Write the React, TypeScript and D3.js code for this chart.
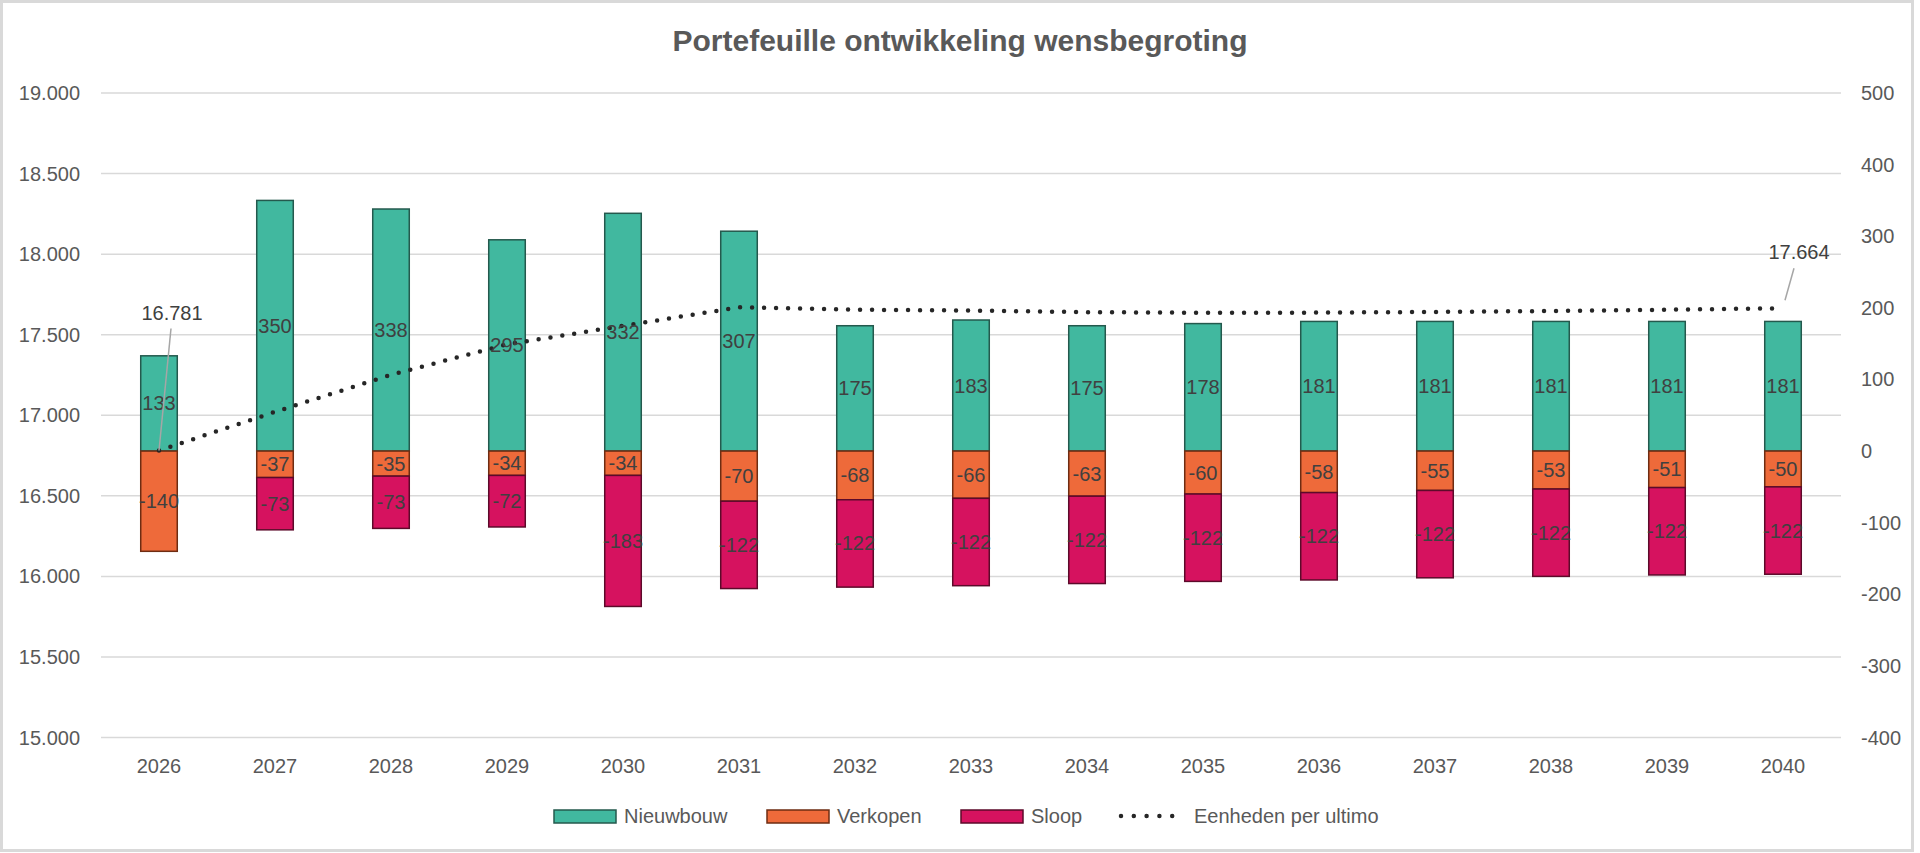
import React, { useRef, useEffect } from 'react';
import * as d3 from 'd3';

// categories and series
const years = ['2026', '2027', '2028', '2029', '2030', '2031', '2032', '2033', '2034', '2035', '2036', '2037', '2038', '2039', '2040'];
const nieuwbouw = [133, 350, 338, 295, 332, 307, 175, 183, 175, 178, 181, 181, 181, 181, 181];
const verkopen = [-140, -37, -35, -34, -34, -70, -68, -66, -63, -60, -58, -55, -53, -51, -50];
const sloop: (number | null)[] = [null, -73, -73, -72, -183, -122, -122, -122, -122, -122, -122, -122, -122, -122, -122];
const eenheden = [16781, 17021, 17251, 17440, 17555, 17670, 17655, 17650, 17640, 17636, 17637, 17641, 17647, 17655, 17664];

const leftTicks = [15000, 15500, 16000, 16500, 17000, 17500, 18000, 18500, 19000];
const rightTicks = [-400, -300, -200, -100, 0, 100, 200, 300, 400, 500];
const labelledPoints = [0, 14]; // only first and last point carry a data label

const W = 1920;
const H = 853;
const FONT = '"Liberation Sans", Arial, sans-serif';
const AXIS_COLOR = '#595959';
const LABEL_COLOR = '#404040';

const nl = d3.formatLocale({ decimal: ',', thousands: '.', grouping: [3], currency: ['€', ''], minus: '-' });
const fmt = nl.format(',d');

const seriesStyle = {
  Nieuwbouw: { fill: '#41B89F', stroke: '#24594d' },
  Verkopen: { fill: '#EE6A3A', stroke: '#6e2c12' },
  Sloop: { fill: '#D6125F', stroke: '#5c0a2a' },
};

const App: React.FC = () => {
  const svgRef = useRef<SVGSVGElement | null>(null);

  useEffect(() => {
    document.body.style.margin = '0';
    const svg = d3.select(svgRef.current);
    svg.selectAll('*').remove();

    const plot = { left: 101, right: 1841, top: 93, bottom: 737.5 };

    const x = d3
      .scaleBand<string>()
      .domain(years)
      .range([plot.left, plot.right])
      .paddingInner(0.685)
      .paddingOuter(0.3425);
    const cx = (i: number) => x(years[i])! + x.bandwidth() / 2;

    const yLeft = d3.scaleLinear().domain([15000, 19000]).range([plot.bottom, plot.top]);
    const yRight = d3.scaleLinear().domain([-400, 500]).range([plot.bottom, plot.top]);

    svg.append('rect').attr('width', W).attr('height', H).attr('fill', '#fff');
    svg
      .append('rect')
      .attr('x', 1.5)
      .attr('y', 1.5)
      .attr('width', 1911)
      .attr('height', 849)
      .attr('fill', 'none')
      .attr('stroke', '#d9d9d9')
      .attr('stroke-width', 3);

    // title
    svg
      .append('text')
      .attr('x', W / 2)
      .attr('y', 51)
      .attr('text-anchor', 'middle')
      .style('font-family', FONT)
      .style('font-size', '30px')
      .style('font-weight', 'bold')
      .attr('fill', AXIS_COLOR)
      .text('Portefeuille ontwikkeling wensbegroting');

    // gridlines from the primary axis
    svg
      .append('g')
      .selectAll('line')
      .data(leftTicks)
      .enter()
      .append('line')
      .attr('x1', plot.left)
      .attr('x2', plot.right)
      .attr('y1', (d) => yLeft(d))
      .attr('y2', (d) => yLeft(d))
      .attr('stroke', '#d9d9d9')
      .attr('stroke-width', 1.5);

    // left axis labels
    svg
      .append('g')
      .selectAll('text')
      .data(leftTicks)
      .enter()
      .append('text')
      .attr('x', 80)
      .attr('y', (d) => yLeft(d) + 7)
      .attr('text-anchor', 'end')
      .style('font-family', FONT)
      .style('font-size', '20px')
      .attr('fill', AXIS_COLOR)
      .text((d) => fmt(d));

    // right axis labels
    svg
      .append('g')
      .selectAll('text')
      .data(rightTicks)
      .enter()
      .append('text')
      .attr('x', 1861)
      .attr('y', (d) => yRight(d) + 7)
      .attr('text-anchor', 'start')
      .style('font-family', FONT)
      .style('font-size', '20px')
      .attr('fill', AXIS_COLOR)
      .text((d) => fmt(d));

    // category labels
    svg
      .append('g')
      .selectAll('text')
      .data(years)
      .enter()
      .append('text')
      .attr('x', (d) => x(d)! + x.bandwidth() / 2)
      .attr('y', 773)
      .attr('text-anchor', 'middle')
      .style('font-family', FONT)
      .style('font-size', '20px')
      .attr('fill', AXIS_COLOR)
      .text((d) => d);

    // stacked segments
    type Seg = { key: keyof typeof seriesStyle; i: number; y0: number; y1: number; v: number };
    const segs: Seg[] = [];
    years.forEach((_, i) => {
      segs.push({ key: 'Nieuwbouw', i, y0: 0, y1: nieuwbouw[i], v: nieuwbouw[i] });
      segs.push({ key: 'Verkopen', i, y0: 0, y1: verkopen[i], v: verkopen[i] });
      const s = sloop[i];
      if (s !== null) segs.push({ key: 'Sloop', i, y0: verkopen[i], y1: verkopen[i] + s, v: s });
    });

    svg
      .append('g')
      .selectAll('rect')
      .data(segs)
      .enter()
      .append('rect')
      .attr('x', (d) => x(years[d.i])!)
      .attr('width', x.bandwidth())
      .attr('y', (d) => Math.min(yRight(d.y0), yRight(d.y1)))
      .attr('height', (d) => Math.abs(yRight(d.y0) - yRight(d.y1)))
      .attr('fill', (d) => seriesStyle[d.key].fill)
      .attr('stroke', (d) => seriesStyle[d.key].stroke)
      .attr('stroke-width', 1.5);

    // line series
    const line = d3
      .line<number>()
      .x((_, i) => cx(i))
      .y((d) => yLeft(d));

    svg
      .append('path')
      .datum(eenheden)
      .attr('d', line)
      .attr('fill', 'none')
      .attr('stroke', '#262626')
      .attr('stroke-width', 4.5)
      .attr('stroke-linecap', 'round')
      .attr('stroke-dasharray', '0 12');

    // bar value labels
    svg
      .append('g')
      .selectAll('text')
      .data(segs)
      .enter()
      .append('text')
      .attr('x', (d) => cx(d.i))
      .attr('y', (d) => yRight((d.y0 + d.y1) / 2) + 7)
      .attr('text-anchor', 'middle')
      .style('font-family', FONT)
      .style('font-size', '20px')
      .attr('fill', LABEL_COLOR)
      .text((d) => String(d.v));

    // line data labels with leader lines
    const labelOffset: Record<number, { dx: number; dy: number; lx1: number; ly1: number; lx2: number; ly2: number }> = {
      0: { dx: 13, dy: -138, lx1: 12, ly1: -122, lx2: 0, ly2: 0 },
      14: { dx: 16, dy: -56, lx1: 11, ly1: -40, lx2: 2, ly2: -8 },
    };
    labelledPoints.forEach((i) => {
      const px = cx(i);
      const py = yLeft(eenheden[i]);
      const o = labelOffset[i];
      svg
        .append('line')
        .attr('x1', px + o.lx1)
        .attr('y1', py + o.ly1)
        .attr('x2', px + o.lx2)
        .attr('y2', py + o.ly2)
        .attr('stroke', '#a6a6a6')
        .attr('stroke-width', 1.5);
      svg
        .append('text')
        .attr('x', px + o.dx)
        .attr('y', py + o.dy + 7)
        .attr('text-anchor', 'middle')
        .style('font-family', FONT)
        .style('font-size', '20px')
        .attr('fill', LABEL_COLOR)
        .text(fmt(eenheden[i]));
    });

    // legend
    const legend = svg.append('g');
    const legendBars: { key: keyof typeof seriesStyle; x: number }[] = [
      { key: 'Nieuwbouw', x: 554 },
      { key: 'Verkopen', x: 767 },
      { key: 'Sloop', x: 961 },
    ];
    legendBars.forEach((b) => {
      legend
        .append('rect')
        .attr('x', b.x)
        .attr('y', 810)
        .attr('width', 62)
        .attr('height', 13)
        .attr('fill', seriesStyle[b.key].fill)
        .attr('stroke', seriesStyle[b.key].stroke)
        .attr('stroke-width', 1.5);
      legend
        .append('text')
        .attr('x', b.x + 70)
        .attr('y', 823)
        .style('font-family', FONT)
        .style('font-size', '20px')
        .attr('fill', AXIS_COLOR)
        .text(b.key);
    });
    legend
      .append('line')
      .attr('x1', 1121)
      .attr('x2', 1185)
      .attr('y1', 816)
      .attr('y2', 816)
      .attr('stroke', '#262626')
      .attr('stroke-width', 4.5)
      .attr('stroke-linecap', 'round')
      .attr('stroke-dasharray', '0 12.8');
    legend
      .append('text')
      .attr('x', 1194)
      .attr('y', 823)
      .style('font-family', FONT)
      .style('font-size', '20px')
      .attr('fill', AXIS_COLOR)
      .text('Eenheden per ultimo');
  }, []);

  return (
    <svg
      ref={svgRef}
      width={W}
      height={H}
      style={{ position: 'absolute', left: 0, top: 0, display: 'block' }}
    />
  );
};

export default App;
